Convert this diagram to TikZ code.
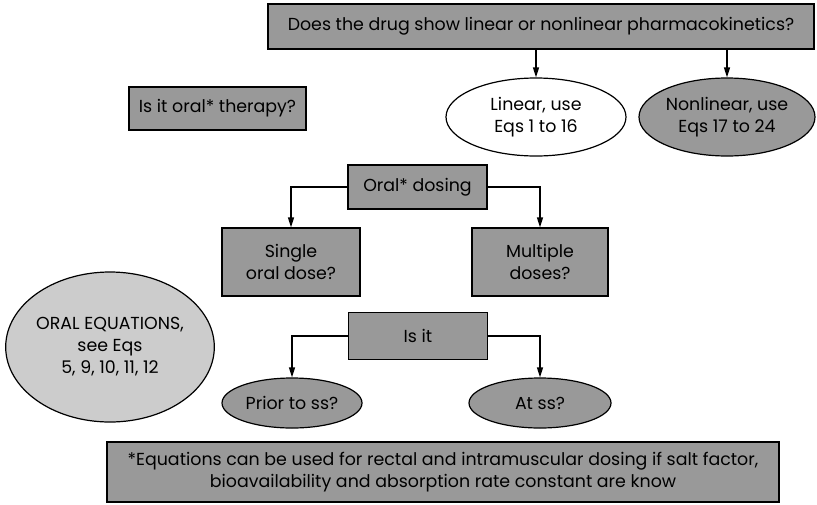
\documentclass[tikz,border=0pt]{standalone}
\usepackage{fontspec}
\setmainfont{Poppins}
\usepackage{tikz}
\usetikzlibrary{arrows.meta,shapes.geometric}
\definecolor{boxgray}{RGB}{153,153,153}
\definecolor{palegray}{RGB}{204,204,204}
\tikzset{
  txt/.style={font=\fontsize{17.4}{22}\selectfont, align=center, inner sep=0pt},
  qbox/.style={txt, draw=black, fill=boxgray, line width=1.2pt},
  oval/.style={txt, ellipse, draw=black, line width=1.2pt},
  arr/.style={line width=1.2pt, -{Triangle[length=10pt, width=6pt]}}
}

\begin{document}
\begin{tikzpicture}[x=1pt, y=-1pt]
    \useasboundingbox (0,0) rectangle (817,504);

    \node[qbox, minimum width=546pt, minimum height=45pt] (drug) at (541,26.5) {Does the drug show linear or nonlinear pharmacokinetics?};
    \node[oval, fill=white, minimum width=180pt, minimum height=78pt] (lin) at (536,117) {Linear, use\\Eqs 1 to 16};
    \node[oval, fill=boxgray, minimum width=176pt, minimum height=78pt] (nonlin) at (727,117) {Nonlinear, use\\Eqs 17 to 24};
    \node[qbox, minimum width=177pt, minimum height=43pt] (oralq) at (217.5,108.5) {Is it oral* therapy?};
    \node[qbox, minimum width=139pt, minimum height=44pt] (oraldose) at (417.5,187) {Oral* dosing};
    \node[qbox, minimum width=138pt, minimum height=68pt] (single) at (291,262) {Single\\oral dose?};
    \node[qbox, minimum width=136pt, minimum height=68pt] (multi) at (540,262) {Multiple\\doses?};
    \node[qbox, minimum width=139pt, minimum height=47pt] (isit) at (418,336) {Is it};
    \node[oval, fill=boxgray, minimum width=140pt, minimum height=50pt] (prior) at (292,403) {Prior to ss?};
    \node[oval, fill=boxgray, minimum width=142pt, minimum height=50pt] (atss) at (540,403) {At ss?};
    \node[oval, fill=palegray, minimum width=208pt, minimum height=150pt] (oraleq) at (110,347) {ORAL EQUATIONS,\\see Eqs\\5, 9, 10, 11, 12};
    \node[qbox, minimum width=672pt, minimum height=60pt] (note) at (443,472) {*Equations can be used for rectal and intramuscular dosing if salt factor,\\bioavailability and absorption rate constant are know};

    \draw[arr] (drug.south -| lin.north) -- (lin.north);
    \draw[arr] (drug.south -| nonlin.north) -- (nonlin.north);
    \draw[arr] (oraldose.west) -| (single.north);
    \draw[arr] (oraldose.east) -| (multi.north);
    \draw[arr] (isit.west) -| (prior.north);
    \draw[arr] (isit.east) -| (atss.north);
\end{tikzpicture}
\end{document}
